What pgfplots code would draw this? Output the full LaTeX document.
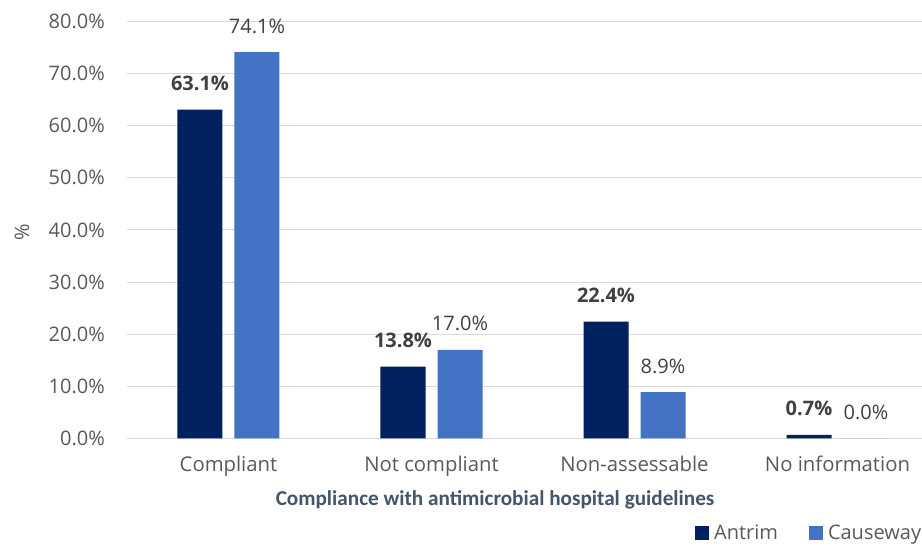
\documentclass[border=0pt]{standalone}
\usepackage{fontspec}
\setmainfont{Open Sans}
\newfontfamily\titlefont{Carlito}
\usepackage{pgfplots}
\pgfplotsset{compat=1.18}
\definecolor{antrim}{HTML}{002060}
\definecolor{causeway}{HTML}{4472C4}
\definecolor{gridc}{HTML}{D9D9D9}
\definecolor{ticktxt}{HTML}{595959}
\definecolor{labtxt}{HTML}{404040}
\definecolor{titletxt}{HTML}{44546A}
\begin{document}
\begin{tikzpicture}
\begin{axis}[
  name=ax,
  /pgf/number format/assume math mode=true,
  x=203pt, y=5.2125pt,
  xmin=-0.5, xmax=3.5, ymin=0, ymax=80,
  clip=false,
  ybar=12pt, bar width=45pt,
  axis line style={draw=none},
  major tick length=0pt,
  ymajorgrids, grid style={gridc, line width=1pt},
  ytick={0,10,20,30,40,50,60,70,80},
  yticklabels={0.0\%,10.0\%,20.0\%,30.0\%,40.0\%,50.0\%,60.0\%,70.0\%,80.0\%},
  yticklabel style={anchor=east, inner sep=0pt, xshift=-22pt, text=ticktxt, font=\fontsize{20}{24}\selectfont},
  xtick={0,1,2,3},
  xticklabels={Compliant, Not compliant, Non-assessable, No information},
  xticklabel style={anchor=base, inner sep=0pt, yshift=-33.5pt, text=ticktxt, font=\fontsize{20.3}{24}\selectfont},
  ylabel={\%},
  ylabel style={at={(rel axis cs:0,0.495)}, anchor=center, yshift=105pt, text=ticktxt, font=\fontsize{20}{24}\selectfont},
  xlabel={Compliance with antimicrobial hospital guidelines},
  xlabel style={at={(rel axis cs:0,0)}, anchor=base, inner sep=0pt, xshift=368pt, yshift=-67.5pt, text=titletxt, font=\titlefont\bfseries\fontsize{21.2}{25}\selectfont},
  nodes near coords={\pgfmathprintnumber[fixed,fixed zerofill,precision=1]{\pgfplotspointmeta}\%},
  every node near coord/.append style={anchor=center, yshift=26pt, text=labtxt, font=\fontsize{20}{24}\selectfont},
  legend columns=2,
  legend style={at={(rel axis cs:0.6995,0)}, anchor=west, yshift=-94.5pt, draw=none, fill=none, inner sep=0pt,
    font=\fontsize{20}{24}\selectfont, text=ticktxt,
    nodes={inner xsep=5pt, inner ysep=0pt},
    /tikz/every even column/.append style={column sep=26pt}},
  legend image code/.code={\fill[#1] (0pt,-7pt) rectangle (14pt,7pt);},
]
\addplot[fill=antrim, draw=none, every node near coord/.append style={font=\bfseries\fontsize{20}{24}\selectfont}]
  coordinates {(0,63.1) (1,13.8) (2,22.4) (3,0.7)};
\addplot[fill=causeway, draw=none]
  coordinates {(0,74.1) (1,17.0) (2,8.9) (3,0.0)};
\legend{Antrim, Causeway}
\end{axis}
\pgfresetboundingbox
\useasboundingbox ([shift={(-127pt,-107.5pt)}]ax.south west) rectangle ([shift={(795pt,438.5pt)}]ax.south west);
\end{tikzpicture}
\end{document}
